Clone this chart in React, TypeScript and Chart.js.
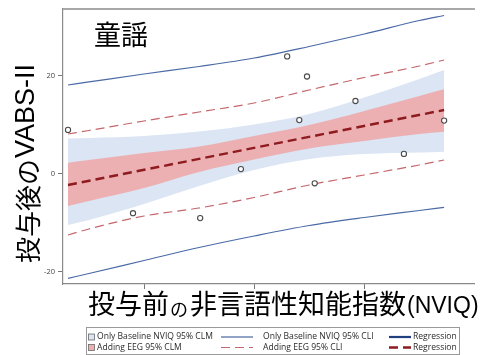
import React, { useEffect, useRef } from 'react';
import { Chart, registerables } from 'chart.js';

Chart.register(...registerables);

// ---- data ----
const nviqGrid = [46.2, 50, 60, 70, 80, 90, 100, 110, 114.5];
const baseClmUpper = [7.24, 7.35, 7.76, 8.67, 10.1, 12.24, 15.61, 19.39, 21.22];
const baseClmLower = [-10.41, -9.39, -6.12, -2.45, 0.82, 3.06, 4.08, 4.39, 4.55];
const eegClmUpper = [2.31, 2.86, 4.29, 5.61, 7.76, 10.0, 12.86, 15.92, 17.29];
const eegClmLower = [-6.53, -5.51, -2.86, 0.41, 2.96, 5.2, 6.73, 8.16, 8.63];
const eegCliUpper = [8.16, 8.88, 10.82, 12.65, 14.49, 17.14, 19.69, 22.04, 23.27];
const eegCliLower = [-12.45, -11.22, -8.57, -6.94, -4.8, -2.24, -0.2, 1.84, 2.86];
const baseCliUpper = [18.16, 18.78, 20.41, 21.94, 23.67, 26.02, 28.57, 31.33, 32.35];
const baseCliLower = [-21.29, -20.31, -17.65, -15.0, -12.65, -10.51, -8.88, -7.45, -6.8];
const regressionX = [46.2, 114.5];
const regressionY = [-2.24, 13.06];
const subjectNviq = [46.2, 58.0, 70.2, 77.6, 86.0, 89.6, 88.2, 91.0, 98.4, 107.2, 114.5];
const subjectVabs = [9.0, -8.0, -9.0, 1.0, 24.0, 19.9, 11.0, -1.9, 14.9, 4.1, 10.9];
const yTicks = [-20, 0, 20];
const xTicks = [60, 80, 100];

const titleText = '童謡';
const yTitleParts = ['投与後の', 'VABS-II'];
const xTitleParts = ['投与前', 'の', '非言語性知能指数', '(NVIQ)'];
const legendRow1 = ['Only Baseline NVIQ 95% CLM', 'Only Baseline NVIQ 95% CLI', 'Regression'];
const legendRow2 = ['Adding EEG 95% CLM', 'Adding EEG 95% CLI', 'Regression'];

const BLUE_BAND = 'rgb(219,229,244)';
const RED_BAND = 'rgb(236,176,178)';
const REG_RED = '#8e1b1f';
const CLI_RED = '#c4666c';
const CLI_BLUE = '#4a6aa6';
const REG_BLUE = '#1f3f7f';

const CJK = '"Noto Sans CJK JP"';
const LAT = '"Liberation Sans"';
const LEG = '"Open Sans", "Noto Sans", sans-serif';

const zip = (xs: number[], ys: number[]) => xs.map((x, i) => ({ x, y: ys[i] }));

const overlay = {
  id: 'overlay',
  afterDraw(chart: any) {
    const ctx: CanvasRenderingContext2D = chart.ctx;
    const a = chart.chartArea;
    ctx.save();
    // top frame line
    ctx.strokeStyle = '#a8a8a8';
    ctx.lineWidth = 2;
    ctx.beginPath();
    ctx.moveTo(a.left, a.top);
    ctx.lineTo(a.right, a.top);
    ctx.stroke();

    // panel title
    ctx.fillStyle = '#000';
    ctx.textAlign = 'left';
    ctx.textBaseline = 'middle';
    ctx.font = `27px ${CJK}`;
    ctx.fillText(titleText, 94, 35);

    // y title (rotated)
    ctx.save();
    ctx.textBaseline = 'alphabetic';
    ctx.font = `26px ${CJK}`;
    const w1 = ctx.measureText(yTitleParts[0]).width;
    ctx.font = `27px ${LAT}`;
    const w2 = ctx.measureText(yTitleParts[1]).width;
    const total = w1 + w2;
    ctx.translate(0, 164 + total / 2);
    ctx.rotate(-Math.PI / 2);
    ctx.textAlign = 'left';
    ctx.font = `26px ${CJK}`;
    ctx.fillText(yTitleParts[0], 0, 37.5);
    ctx.font = `27px ${LAT}`;
    ctx.fillText(yTitleParts[1], w1 + 1, 34);
    ctx.restore();

    // x title
    ctx.textBaseline = 'alphabetic';
    ctx.textAlign = 'left';
    let x = 88;
    ctx.font = `27px ${CJK}`;
    ctx.fillText(xTitleParts[0], x, 314);
    x += ctx.measureText(xTitleParts[0]).width + 1;
    ctx.font = `18px ${CJK}`;
    ctx.fillText(xTitleParts[1], x, 316);
    x += ctx.measureText(xTitleParts[1]).width + 2;
    ctx.font = `27px ${CJK}`;
    ctx.fillText(xTitleParts[2], x, 314);
    x += ctx.measureText(xTitleParts[2]).width + 1;
    ctx.font = `23px ${LAT}`;
    ctx.fillText(xTitleParts[3], x, 312.5);

    // legend
    ctx.textBaseline = 'middle';
    const ds = chart.data.datasets;
    const L = 86.5, T = 327.5, R = 459.5, B = 354.5;
    ctx.strokeStyle = '#9a9a9a';
    ctx.lineWidth = 1;
    ctx.strokeRect(L, T, R - L, B - T);
    const rows = [337, 347.5];
    const labels = [legendRow1, legendRow2];
    const swatch = [BLUE_BAND, RED_BAND];
    const cliStyle = [ds[4], ds[2]];
    const regStyle = [{ borderColor: REG_BLUE, borderWidth: 2.2, borderDash: [] }, ds[1]];
    ctx.font = `10px ${LEG}`;
    const m = ctx.measureText(legendRow1[0]).width;
    const fs = Math.max(7, Math.min(11, (10 * 116) / m));
    ctx.font = `${fs.toFixed(2)}px ${LEG}`;
    for (let r = 0; r < 2; r++) {
      const y = rows[r];
      ctx.fillStyle = swatch[r];
      ctx.fillRect(88.5, y - 3, 6, 6);
      ctx.strokeStyle = '#6a6a6a';
      ctx.lineWidth = 0.8;
      ctx.strokeRect(88.5, y - 3, 6, 6);
      ctx.fillStyle = '#2a2a2a';
      ctx.fillText(labels[r][0], 97, y);
      // CLI line sample
      ctx.strokeStyle = cliStyle[r].borderColor;
      ctx.lineWidth = cliStyle[r].borderWidth;
      ctx.setLineDash(cliStyle[r].borderDash || []);
      ctx.beginPath();
      ctx.moveTo(221, y);
      ctx.lineTo(253, y);
      ctx.stroke();
      ctx.setLineDash([]);
      ctx.fillText(labels[r][1], 263, y);
      // regression sample
      ctx.strokeStyle = regStyle[r].borderColor;
      ctx.lineWidth = regStyle[r].borderWidth;
      ctx.setLineDash(regStyle[r].borderDash || []);
      ctx.beginPath();
      ctx.moveTo(389, y);
      ctx.lineTo(411, y);
      ctx.stroke();
      ctx.setLineDash([]);
      ctx.fillText(labels[r][2], 413, y);
    }
    ctx.restore();
  },
};

export default function App() {
  const ref = useRef<HTMLCanvasElement | null>(null);
  useEffect(() => {
    if (!ref.current) return;
    const lineBase = { pointRadius: 0, tension: 0.35, cubicInterpolationMode: 'monotone' as const };
    const chart = new Chart(ref.current, {
      type: 'line',
      data: {
        datasets: [
          {
            label: 'Subjects',
            data: zip(subjectNviq, subjectVabs),
            showLine: false,
            pointRadius: 2.6,
            pointBorderWidth: 1.1,
            pointBorderColor: '#4a4a4a',
            pointBackgroundColor: '#ffffff',
            order: 0,
          },
          {
            label: 'Regression',
            data: zip(regressionX, regressionY),
            borderColor: REG_RED,
            borderWidth: 2.4,
            borderDash: [9, 5],
            pointRadius: 0,
            order: 1,
          },
          {
            label: 'Adding EEG 95% CLI upper',
            data: zip(nviqGrid, eegCliUpper),
            borderColor: CLI_RED,
            borderWidth: 1.2,
            borderDash: [9, 5],
            ...lineBase,
            order: 2,
          },
          {
            label: 'Adding EEG 95% CLI lower',
            data: zip(nviqGrid, eegCliLower),
            borderColor: CLI_RED,
            borderWidth: 1.2,
            borderDash: [9, 5],
            ...lineBase,
            order: 3,
          },
          {
            label: 'Only Baseline NVIQ 95% CLI upper',
            data: zip(nviqGrid, baseCliUpper),
            borderColor: CLI_BLUE,
            borderWidth: 1.2,
            ...lineBase,
            order: 4,
          },
          {
            label: 'Only Baseline NVIQ 95% CLI lower',
            data: zip(nviqGrid, baseCliLower),
            borderColor: CLI_BLUE,
            borderWidth: 1.2,
            ...lineBase,
            order: 5,
          },
          {
            label: 'Adding EEG 95% CLM upper',
            data: zip(nviqGrid, eegClmUpper),
            borderWidth: 0,
            borderColor: 'rgba(0,0,0,0)',
            backgroundColor: RED_BAND,
            fill: '+1',
            ...lineBase,
            order: 6,
          },
          {
            label: 'Adding EEG 95% CLM lower',
            data: zip(nviqGrid, eegClmLower),
            borderWidth: 0,
            borderColor: 'rgba(0,0,0,0)',
            fill: false,
            ...lineBase,
            order: 7,
          },
          {
            label: 'Only Baseline NVIQ 95% CLM upper',
            data: zip(nviqGrid, baseClmUpper),
            borderWidth: 0,
            borderColor: 'rgba(0,0,0,0)',
            backgroundColor: BLUE_BAND,
            fill: '+1',
            ...lineBase,
            order: 8,
          },
          {
            label: 'Only Baseline NVIQ 95% CLM lower',
            data: zip(nviqGrid, baseClmLower),
            borderWidth: 0,
            borderColor: 'rgba(0,0,0,0)',
            fill: false,
            ...lineBase,
            order: 9,
          },
        ],
      },
      options: {
        responsive: false,
        animation: false,
        layout: { padding: { top: 9, left: 0, right: 0, bottom: 0 } },
        plugins: { legend: { display: false }, tooltip: { enabled: false } },
        scales: {
          x: {
            type: 'linear',
            min: 45.29,
            max: 120.09,
            afterBuildTicks: (s: any) => {
              s.ticks = xTicks.map((v) => ({ value: v }));
            },
            afterFit: (s: any) => {
              s.height = 71;
            },
            ticks: { callback: () => '', padding: 0 },
            grid: { drawOnChartArea: false, drawTicks: true, tickLength: 5, color: '#777' },
            border: { display: true, color: '#8a8a8a', width: 1.2 },
          },
          y: {
            type: 'linear',
            min: -22.45,
            max: 33.67,
            afterBuildTicks: (s: any) => {
              s.ticks = yTicks.map((v) => ({ value: v }));
            },
            afterFit: (s: any) => {
              s.width = 63;
            },
            ticks: {
              padding: 3,
              color: '#444',
              font: { size: 7.5, family: '"Open Sans"' },
              callback: (v: any) => String(v),
            },
            grid: { drawOnChartArea: false, drawTicks: true, tickLength: 5, color: '#777' },
            border: { display: true, color: '#8a8a8a', width: 1.2 },
          },
        },
      },
      plugins: [overlay],
    } as any);
    return () => chart.destroy();
  }, []);
  return (
    <div style={{ position: 'absolute', left: 0, top: 0, width: 480, height: 355, background: '#fff' }}>
      <canvas ref={ref} width={480} height={355} style={{ display: 'block' }} />
    </div>
  );
}
